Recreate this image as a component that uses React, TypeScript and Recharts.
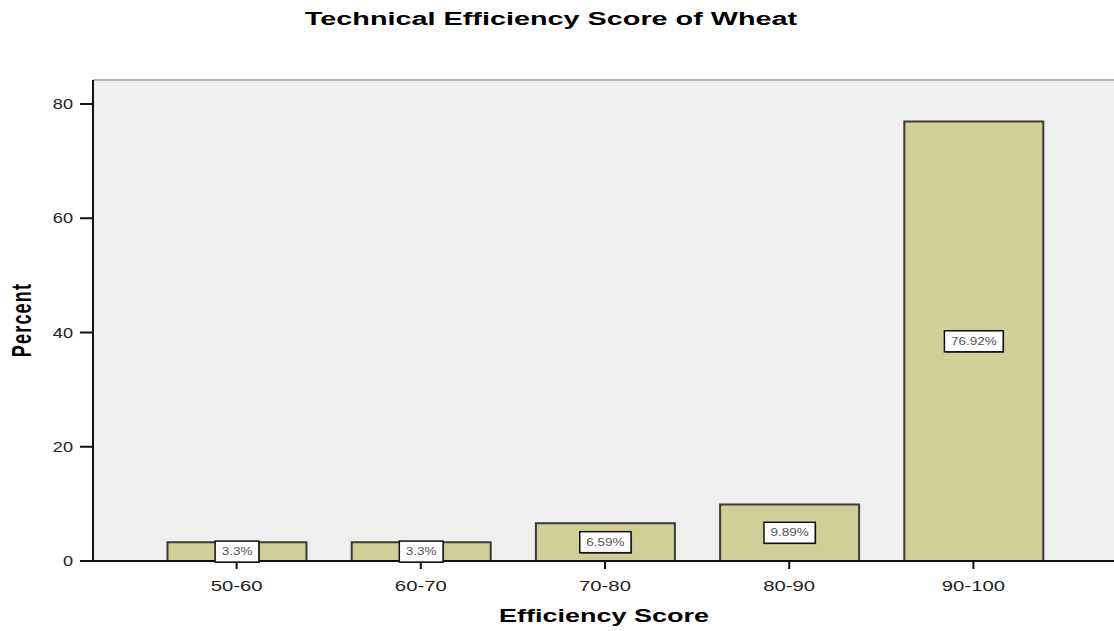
import React from 'react';
import {
  BarChart,
  Bar,
  XAxis,
  YAxis,
  CartesianGrid,
  ReferenceLine,
  LabelList,
} from 'recharts';

const CATEGORIES = ['50-60', '60-70', '70-80', '80-90', '90-100'];
const PERCENTS = [3.3, 3.3, 6.59, 9.89, 76.92];
const VALUE_LABELS = ['3.3%', '3.3%', '6.59%', '9.89%', '76.92%'];
const Y_TICKS = [0, 20, 40, 60, 80];
const Y_MAX = 84.2;

const FONT = '"Liberation Sans", Arial, Helvetica, sans-serif';

const data = CATEGORIES.map((range, i) => ({
  range,
  percent: PERCENTS[i],
  label: VALUE_LABELS[i],
}));

// rough Arial advance widths, used to size the white label boxes
const charWidth = (ch: string) => {
  if (ch === '.') return 0.278;
  if (ch === '%') return 0.889;
  return 0.556;
};
const textWidth = (s: string, size: number) =>
  s.split('').reduce((sum, ch) => sum + charWidth(ch), 0) * size;

const XTick = (props: any) => {
  const { x, y, payload } = props;
  return (
    <g transform={`translate(${x},${y}) scale(1.45,1)`}>
      <text x={0} y={20} textAnchor="middle" fontFamily={FONT} fontSize={14} fill="#222">
        {payload.value}
      </text>
    </g>
  );
};

const YTick = (props: any) => {
  const { x, y, payload } = props;
  return (
    <g transform={`translate(${x},${y}) scale(1.3,1)`}>
      <text x={0} y={5} textAnchor="end" fontFamily={FONT} fontSize={14} fill="#222">
        {payload.value}
      </text>
    </g>
  );
};

const BoxLabel = (props: any) => {
  const x = Number(props.x);
  const y = Number(props.y);
  const width = Number(props.width);
  const height = Number(props.height);
  const value = String(props.value);
  const cx = x + width / 2;
  const cy = y + height / 2;
  const scale = 1.35;
  const w = textWidth(value, 10) * scale + 13;
  const h = 21;
  return (
    <g>
      <rect x={cx - w / 2 + 1} y={cy - h / 2 + 1} width={w} height={h} fill="#555" />
      <rect x={cx - w / 2} y={cy - h / 2} width={w} height={h} fill="#fff" stroke="#111" strokeWidth={1.5} />
      <g transform={`translate(${cx},${cy + 3.5}) scale(${scale},1)`}>
        <text x={0} y={0} textAnchor="middle" fontFamily={FONT} fontSize={10} fill="#555">
          {value}
        </text>
      </g>
    </g>
  );
};

export default function App() {
  return (
    <div
      style={{
        position: 'absolute',
        left: 0,
        top: 0,
        width: 1114,
        height: 631,
        background: '#fff',
        fontFamily: FONT,
      }}
    >
      <div
        style={{
          position: 'absolute',
          left: 551,
          top: 10,
          fontSize: 18,
          lineHeight: '18px',
          fontWeight: 'bold',
          whiteSpace: 'nowrap',
          color: '#000',
          transform: 'translateX(-50%) scaleX(1.6)',
        }}
      >
        Technical Efficiency Score of Wheat
      </div>

      <BarChart
        width={1114}
        height={631}
        data={data}
        margin={{ top: 80, right: 0, left: 13, bottom: 30 }}
      >
        <CartesianGrid horizontal={false} vertical={false} fill="#efefef" stroke="none" />
        <ReferenceLine y={Y_MAX} stroke="#b5b5b5" strokeWidth={2} />
        <XAxis
          dataKey="range"
          height={40}
          padding={{ left: 51.5, right: 48.5 }}
          tickSize={8}
          tickMargin={2}
          tick={<XTick />}
          axisLine={{ stroke: '#111', strokeWidth: 2 }}
          tickLine={{ stroke: '#111', strokeWidth: 2 }}
        />
        <YAxis
          width={80}
          domain={[0, Y_MAX]}
          ticks={Y_TICKS}
          allowDataOverflow
          tickSize={13}
          tickMargin={7}
          tick={<YTick />}
          axisLine={{ stroke: '#111', strokeWidth: 2 }}
          tickLine={{ stroke: '#111', strokeWidth: 2 }}
        />
        <Bar
          dataKey="percent"
          barSize={139}
          fill="#d3ce98"
          stroke="#3a3a3a"
          strokeWidth={2}
          isAnimationActive={false}
        >
          <LabelList dataKey="label" content={<BoxLabel />} />
        </Bar>
      </BarChart>

      <div
        style={{
          position: 'absolute',
          left: 604,
          top: 607,
          fontSize: 18,
          lineHeight: '18px',
          fontWeight: 'bold',
          whiteSpace: 'nowrap',
          color: '#000',
          transform: 'translateX(-50%) scaleX(1.5)',
        }}
      >
        Efficiency Score
      </div>

      <div
        style={{
          position: 'absolute',
          left: 22,
          top: 320,
          fontSize: 18,
          lineHeight: '18px',
          fontWeight: 'bold',
          letterSpacing: 1.2,
          whiteSpace: 'nowrap',
          color: '#000',
          transform: 'translate(-50%,-50%) scaleX(1.5) rotate(-90deg)',
        }}
      >
        Percent
      </div>
    </div>
  );
}
